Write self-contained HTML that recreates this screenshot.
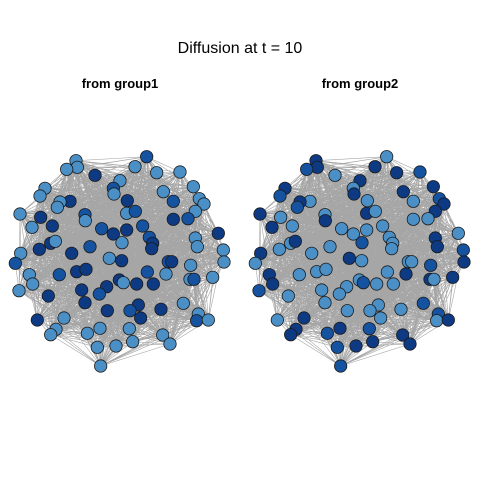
<!DOCTYPE html>
<html><head><meta charset="utf-8"><style>
html,body{margin:0;padding:0;background:#fff;}
svg{display:block;font-family:"Liberation Sans",Arial,sans-serif;}
</style></head><body>
<svg id="chart" width="480" height="480" viewBox="0 0 480 480">
<rect width="480" height="480" fill="#fff"/>
<text x="240" y="53" text-anchor="middle" font-size="16" fill="#000">Diffusion at t = 10</text>
<text x="120" y="88" text-anchor="middle" font-size="13" font-weight="bold">from group1</text>
<text x="360" y="88" text-anchor="middle" font-size="13" font-weight="bold">from group2</text>
<g id="p1"></g>
<g id="p2"></g>
</svg>
<script>
const nodeX=[440,228,232,200,405,470,540,285,360,340,342,135,120,580,490,598,612,382,520,210,180,172,60,122,255,256,380,406,586,520,564,96,157,305,340,380,428,655,586,448,458,455,366,152,166,270,118,592,670,215,62,46,328,365,505,515,672,572,230,258,178,88,98,442,498,570,582,638,358,370,410,460,57,245,320,298,145,255,550,415,322,390,422,483,595,112,192,590,625,300,262,168,152,388,488,510,292,348,398,302];
const nodeY=[50,62,82,88,80,98,96,106,122,145,162,145,168,140,155,176,192,182,184,184,186,202,222,232,224,242,220,214,214,238,236,262,258,266,282,270,258,280,294,292,310,326,308,310,304,320,328,320,330,340,340,370,355,362,365,365,366,376,395,388,404,404,432,396,402,418,418,412,420,428,432,432,452,450,440,462,468,488,490,495,512,512,534,508,522,540,534,542,540,565,580,568,584,566,585,612,622,618,605,678];
const lightG1=[0,1,1,1,1,1,1,0,1,0,1,1,1,1,1,1,1,0,0,0,1,1,1,0,0,1,1,0,1,0,0,1,0,0,0,0,0,0,1,0,0,0,1,0,1,0,0,1,1,0,1,0,1,0,0,0,1,1,0,0,0,1,1,0,1,1,0,1,0,1,0,0,1,0,0,0,0,0,1,0,0,0,0,0,1,0,1,0,1,1,1,1,1,1,1,1,1,1,1,1];
const lightG2=lightG1.map(v=>1-v);
const NS="http://www.w3.org/2000/svg";
const sx=(z,off)=>z/3+off, sy=z=>z/3+140;
function draw(g,off,light){
  const n=nodeX.length;
  const eg=document.createElementNS(NS,"g");
  
  
  let d="";
  for(let i=0;i<n;i++)for(let j=i+1;j<n;j++){
    const h=((i*7919+j*104729+i*j*31)%997)/997;
    const dx=nodeX[i]-nodeX[j],dy=nodeY[i]-nodeY[j];
    const dist=Math.sqrt(dx*dx+dy*dy);
    const p=0.9*Math.exp(-dist/420);
    if(h<p) d+=`M${sx(nodeX[i],off).toFixed(1)} ${sy(nodeY[i]).toFixed(1)}L${sx(nodeX[j],off).toFixed(1)} ${sy(nodeY[j]).toFixed(1)}`;
  }
  const path=document.createElementNS(NS,"path");
  path.setAttribute("d",d);path.setAttribute("stroke","#a6a6a6");path.setAttribute("stroke-width","0.6");path.setAttribute("fill","none");
  
  
  eg.appendChild(path);g.appendChild(eg);
  for(let i=0;i<n;i++){
    const c=document.createElementNS(NS,"circle");
    c.setAttribute("cx",sx(nodeX[i],off));c.setAttribute("cy",sy(nodeY[i]));c.setAttribute("r","6.2");
    c.setAttribute("fill",light[i]?"#4a8fc6":(i%3?"#0d3a82":"#1552a0"));
    c.setAttribute("stroke","#1a1a1a");c.setAttribute("stroke-width","0.8");
    
    
    g.appendChild(c);
  }
}
draw(document.getElementById("p1"),0,lightG1);
draw(document.getElementById("p2"),240,lightG2);
</script>
</body></html>
